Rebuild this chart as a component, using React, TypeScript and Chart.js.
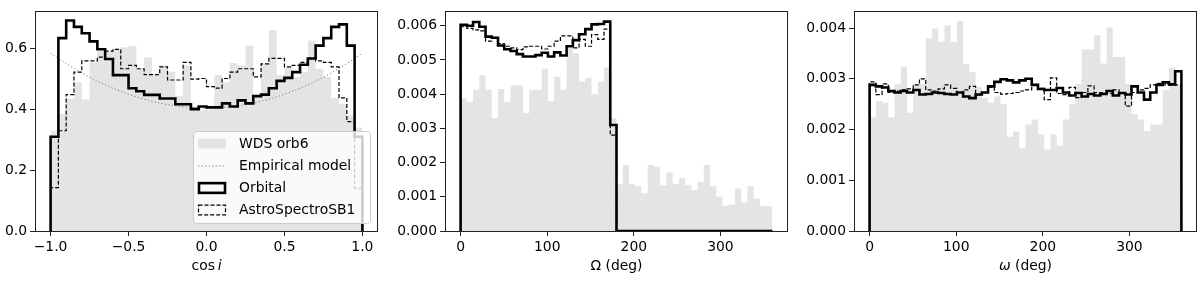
import React, { useEffect, useRef } from 'react';
import { Chart, registerables } from 'chart.js';

Chart.register(...registerables);

const FONT_FAMILY = '"DejaVu Sans", sans-serif';
const FONT_SIZE = 13.9;

// ---------- Panel 1: cos i (40 bins from -1 to 1) ----------
const COSI_RANGE: [number, number] = [-1, 1];
const COSI_WDS = [
  0.33, 0.385, 0.435, 0.49, 0.433, 0.555, 0.592, 0.59, 0.6, 0.605,
  0.61, 0.534, 0.571, 0.513, 0.545, 0.524, 0.444, 0.545, 0.41, 0.4,
  0.4, 0.513, 0.49, 0.553, 0.545, 0.61, 0.444, 0.55, 0.661, 0.513,
  0.539, 0.507, 0.523, 0.627, 0.534, 0.507, 0.438, 0.417, 0.38, 0.34,
];
const COSI_ORBITAL = [
  0.31, 0.635, 0.693, 0.672, 0.651, 0.624, 0.598, 0.566, 0.513, 0.513,
  0.47, 0.46, 0.448, 0.448, 0.436, 0.436, 0.417, 0.417, 0.401, 0.41,
  0.407, 0.407, 0.42, 0.41, 0.43, 0.42, 0.444, 0.449, 0.47, 0.494,
  0.504, 0.523, 0.547, 0.568, 0.61, 0.635, 0.672, 0.68, 0.61, 0.31,
];
const COSI_SB1 = [
  0.143, 0.33, 0.449, 0.523, 0.56, 0.56, 0.572, 0.592, 0.598, 0.534,
  0.545, 0.534, 0.515, 0.515, 0.54, 0.497, 0.497, 0.555, 0.5, 0.502,
  0.475, 0.47, 0.502, 0.523, 0.534, 0.534, 0.507, 0.55, 0.568, 0.568,
  0.54, 0.545, 0.555, 0.568, 0.56, 0.555, 0.54, 0.438, 0.36, 0.14,
];
const COSI_MODEL_X = [
  -1, -0.9, -0.8, -0.7, -0.6, -0.5, -0.4, -0.3, -0.2, -0.1, 0,
  0.1, 0.2, 0.3, 0.4, 0.5, 0.6, 0.7, 0.8, 0.9, 1,
];
const COSI_MODEL_Y = [
  0.585, 0.551, 0.52, 0.493, 0.47, 0.45, 0.434, 0.421, 0.412, 0.407, 0.405,
  0.407, 0.412, 0.421, 0.434, 0.45, 0.47, 0.493, 0.52, 0.551, 0.585,
];
const COSI_X_TICKS = [-1, -0.5, 0, 0.5, 1];
const COSI_X_LABELS = ['\u22121.0', '\u22120.5', '0.0', '0.5', '1.0'];
const COSI_Y_TICKS = [0, 0.2, 0.4, 0.6];
const COSI_Y_LABELS = ['0.0', '0.2', '0.4', '0.6'];

// ---------- Panel 2: Omega (50 bins from 0 to 360) ----------
const NODE_RANGE: [number, number] = [0, 360];
const NODE_WDS = [
  0.00388, 0.00378, 0.00413, 0.00455, 0.00413, 0.0033, 0.00415, 0.00378, 0.00425, 0.00425,
  0.00345, 0.00413, 0.00413, 0.00474, 0.0038, 0.00451, 0.00413, 0.00535, 0.0052, 0.00437,
  0.00447, 0.004, 0.00436, 0.00478, 0.0033, 0.00137, 0.00193, 0.00137, 0.00131, 0.0011,
  0.00193, 0.00188, 0.00134, 0.00171, 0.00137, 0.00154, 0.00134, 0.00119, 0.00143, 0.00193,
  0.00131, 0.001, 0.00074, 0.00077, 0.00124, 0.00083, 0.00131, 0.00094, 0.00074, 0.00072,
];
const NODE_ORBITAL = [
  0.00603, 0.006, 0.00611, 0.00597, 0.00568, 0.00565, 0.00542, 0.00531, 0.00526, 0.00517,
  0.0051, 0.0051, 0.00514, 0.00521, 0.0051, 0.00522, 0.00513, 0.0054, 0.00558, 0.00575,
  0.0059, 0.00604, 0.00605, 0.00612, 0.0031, 0, 0, 0, 0, 0,
  0, 0, 0, 0, 0, 0, 0, 0, 0, 0,
  0, 0, 0, 0, 0, 0, 0, 0, 0, 0,
];
const NODE_SB1 = [
  0.00597, 0.00592, 0.00588, 0.00585, 0.00555, 0.00565, 0.00548, 0.0054, 0.00535, 0.0053,
  0.00538, 0.0054, 0.0054, 0.00532, 0.0054, 0.00555, 0.0057, 0.0057, 0.00535, 0.0056,
  0.0054, 0.00574, 0.0056, 0.0059, 0.0028, 0, 0, 0, 0, 0,
  0, 0, 0, 0, 0, 0, 0, 0, 0, 0,
  0, 0, 0, 0, 0, 0, 0, 0, 0, 0,
];
const DEG_X_TICKS = [0, 100, 200, 300];
const DEG_X_LABELS = ['0', '100', '200', '300'];
const NODE_Y_TICKS = [0, 0.001, 0.002, 0.003, 0.004, 0.005, 0.006];
const NODE_Y_LABELS = ['0.000', '0.001', '0.002', '0.003', '0.004', '0.005', '0.006'];

// ---------- Panel 3: omega (50 bins from 0 to 360) ----------
const PERI_RANGE: [number, number] = [0, 360];
const PERI_WDS = [
  0.00224, 0.00256, 0.00253, 0.00224, 0.0029, 0.00324, 0.00233, 0.0029, 0.0029, 0.0038,
  0.00399, 0.00373, 0.00405, 0.00373, 0.00414, 0.00329, 0.00313, 0.00284, 0.00262, 0.00253,
  0.00265, 0.0025, 0.00186, 0.00196, 0.00163, 0.0021, 0.0022, 0.0019, 0.0016, 0.0019,
  0.00168, 0.0022, 0.0025, 0.0029, 0.00358, 0.00358, 0.00386, 0.0033, 0.00401, 0.00343,
  0.00343, 0.0029, 0.0023, 0.0022, 0.00197, 0.0021, 0.0021, 0.00278, 0.00322, 0.00288,
];
const PERI_ORBITAL = [
  0.00288, 0.00285, 0.00283, 0.00276, 0.00273, 0.00276, 0.00273, 0.00278, 0.00269, 0.0027,
  0.00273, 0.00272, 0.0027, 0.00269, 0.00273, 0.00265, 0.00262, 0.00269, 0.00273, 0.00285,
  0.00294, 0.00299, 0.00297, 0.00293, 0.00297, 0.003, 0.00288, 0.0028, 0.00278, 0.00278,
  0.00282, 0.00273, 0.00267, 0.00272, 0.00265, 0.0027, 0.00267, 0.0027, 0.00276, 0.00267,
  0.00272, 0.00269, 0.00285, 0.00273, 0.00259, 0.00273, 0.00288, 0.00293, 0.00289, 0.00315,
];
const PERI_SB1 = [
  0.00294, 0.00269, 0.0029, 0.00273, 0.00276, 0.00278, 0.0028, 0.00288, 0.003, 0.00278,
  0.00276, 0.0028, 0.00288, 0.00281, 0.00273, 0.00278, 0.00285, 0.00269, 0.00273, 0.00283,
  0.00273, 0.0027, 0.00271, 0.00273, 0.00276, 0.00278, 0.00288, 0.00281, 0.00259, 0.00302,
  0.00271, 0.00269, 0.00283, 0.00263, 0.00273, 0.00286, 0.00273, 0.00273, 0.00271, 0.00278,
  0.00273, 0.00246, 0.00273, 0.00278, 0.00281, 0.00288, 0.00291, 0.00288, 0.00288, 0.00288,
];
const PERI_Y_TICKS = [0, 0.001, 0.002, 0.003, 0.004];
const PERI_Y_LABELS = ['0.000', '0.001', '0.002', '0.003', '0.004'];

const LEGEND_LABELS = ['WDS orb6', 'Empirical model', 'Orbital', 'AstroSpectroSB1'];

type TitlePart = { text: string; italic?: boolean };

type PanelCfg = {
  left: number;
  width: number;
  yAxisW: number;
  padRight: number;
  xMin: number;
  xMax: number;
  yMax: number;
  xTicks: number[];
  xLabels: string[];
  yTicks: number[];
  yLabels: string[];
  range: [number, number];
  wds: number[];
  orbital: number[];
  sb1: number[];
  modelX?: number[];
  modelY?: number[];
  title: TitlePart[];
  legend?: boolean;
};

const GRAY = '#e4e4e4';

function stepPoints(range: [number, number], values: number[]) {
  const n = values.length;
  const w = (range[1] - range[0]) / n;
  const pts: { x: number; y: number }[] = [{ x: range[0], y: 0 }];
  values.forEach((v, i) => pts.push({ x: range[0] + i * w, y: v }));
  pts.push({ x: range[1], y: 0 });
  return pts;
}

function font(italic = false) {
  return `${italic ? 'italic ' : ''}${FONT_SIZE}px ${FONT_FAMILY}`;
}

function Panel({ cfg }: { cfg: PanelCfg }) {
  const ref = useRef<HTMLCanvasElement | null>(null);

  useEffect(() => {
    const canvas = ref.current;
    if (!canvas) return;

    const decor = {
      id: 'decor',
      afterDraw(chart: any) {
        const { ctx, chartArea } = chart;
        const { left, right, top, bottom } = chartArea;
        ctx.save();
        // frame (all four spines)
        ctx.strokeStyle = '#222';
        ctx.lineWidth = 1;
        ctx.strokeRect(Math.round(left) + 0.5, Math.round(top) + 0.5, Math.round(right - left) - 1, Math.round(bottom - top));

        // axis title
        ctx.fillStyle = '#000';
        ctx.textBaseline = 'middle';
        ctx.textAlign = 'left';
        let total = 0;
        const widths = cfg.title.map((p) => {
          ctx.font = font(p.italic);
          const w = ctx.measureText(p.text).width;
          total += w;
          return w;
        });
        let x = (left + right) / 2 - total / 2;
        cfg.title.forEach((p, i) => {
          ctx.font = font(p.italic);
          ctx.fillText(p.text, x, 266.5);
          x += widths[i];
        });

        // legend
        if (cfg.legend) {
          const bx = 193.5, by = 131.5, bw = 177, bh = 92;
          const r = 3;
          ctx.beginPath();
          ctx.moveTo(bx + r, by);
          ctx.lineTo(bx + bw - r, by);
          ctx.arcTo(bx + bw, by, bx + bw, by + r, r);
          ctx.lineTo(bx + bw, by + bh - r);
          ctx.arcTo(bx + bw, by + bh, bx + bw - r, by + bh, r);
          ctx.lineTo(bx + r, by + bh);
          ctx.arcTo(bx, by + bh, bx, by + bh - r, r);
          ctx.lineTo(bx, by + r);
          ctx.arcTo(bx, by, bx + r, by, r);
          ctx.closePath();
          ctx.fillStyle = 'rgba(255,255,255,0.8)';
          ctx.fill();
          ctx.strokeStyle = '#cccccc';
          ctx.lineWidth = 1;
          ctx.stroke();

          const rows = [143.5, 165.5, 188, 210];
          const hx = 198, hw = 28, hh = 9.7;
          // WDS
          ctx.fillStyle = GRAY;
          ctx.fillRect(hx, rows[0] - hh / 2, hw, hh);
          // model
          ctx.strokeStyle = '#7f7f7f';
          ctx.lineWidth = 1;
          ctx.setLineDash([1.3, 2.2]);
          ctx.beginPath();
          ctx.moveTo(hx, rows[1] + 0.5);
          ctx.lineTo(hx + hw, rows[1] + 0.5);
          ctx.stroke();
          // orbital
          ctx.setLineDash([]);
          ctx.strokeStyle = '#000';
          ctx.lineWidth = 2.6;
          ctx.strokeRect(hx + 1, rows[2] - hh / 2, hw - 2, hh);
          // sb1
          ctx.lineWidth = 1.2;
          ctx.setLineDash([4, 2]);
          ctx.strokeRect(hx + 0.5, rows[3] - hh / 2, hw - 1, hh);
          ctx.setLineDash([]);

          ctx.fillStyle = '#000';
          ctx.font = font(false);
          ctx.textBaseline = 'middle';
          LEGEND_LABELS.forEach((t, i) => ctx.fillText(t, 239, rows[i] + 0.5));
        }
        ctx.restore();
      },
    };

    const datasets: any[] = [
      {
        label: 'Orbital',
        data: stepPoints(cfg.range, cfg.orbital),
        stepped: 'before',
        borderColor: '#000',
        borderWidth: 2.6,
        pointRadius: 0,
        fill: false,
        order: 1,
      },
      {
        label: 'AstroSpectroSB1',
        data: stepPoints(cfg.range, cfg.sb1),
        stepped: 'before',
        borderColor: '#000',
        borderWidth: 1.2,
        borderDash: [4, 2],
        pointRadius: 0,
        fill: false,
        order: 2,
      },
      {
        label: 'WDS orb6',
        data: stepPoints(cfg.range, cfg.wds),
        stepped: 'before',
        borderColor: 'rgba(0,0,0,0)',
        borderWidth: 0,
        backgroundColor: GRAY,
        pointRadius: 0,
        fill: 'origin',
        order: 4,
      },
    ];
    if (cfg.modelX && cfg.modelY) {
      datasets.push({
        label: 'Empirical model',
        data: cfg.modelX.map((x, i) => ({ x, y: cfg.modelY![i] })),
        borderColor: '#7f7f7f',
        borderWidth: 1,
        borderDash: [1.3, 2.2],
        cubicInterpolationMode: 'monotone',
        pointRadius: 0,
        fill: false,
        order: 3,
      });
    }

    const tickFont = { family: FONT_FAMILY, size: FONT_SIZE };

    const chart = new Chart(canvas, {
      type: 'line',
      data: { datasets },
      options: {
        animation: false,
        responsive: false,
        events: [],
        layout: { padding: { left: 0, right: cfg.padRight, top: 4, bottom: 0 } },
        plugins: { legend: { display: false }, tooltip: { enabled: false } },
        scales: {
          x: {
            type: 'linear',
            min: cfg.xMin,
            max: cfg.xMax,
            afterBuildTicks: (s: any) => {
              s.ticks = cfg.xTicks.map((v) => ({ value: v }));
            },
            afterFit: (s: any) => {
              s.height = 50;
            },
            ticks: {
              callback: (_v: any, i: number) => cfg.xLabels[i],
              font: tickFont,
              color: '#000',
              padding: 3,
              maxRotation: 0,
              autoSkip: false,
            },
            grid: { drawOnChartArea: false, drawTicks: true, tickLength: 5, color: '#222', lineWidth: 1 },
            border: { display: false },
          },
          y: {
            type: 'linear',
            min: 0,
            max: cfg.yMax,
            afterBuildTicks: (s: any) => {
              s.ticks = cfg.yTicks.map((v) => ({ value: v }));
            },
            afterFit: (s: any) => {
              s.width = cfg.yAxisW;
            },
            ticks: {
              callback: (_v: any, i: number) => cfg.yLabels[i],
              font: tickFont,
              color: '#000',
              padding: 3,
              autoSkip: false,
            },
            grid: { drawOnChartArea: false, drawTicks: true, tickLength: 5, color: '#222', lineWidth: 1 },
            border: { display: false },
          },
        },
      },
      plugins: [decor],
    } as any);

    return () => chart.destroy();
  }, [cfg]);

  return (
    <canvas
      ref={ref}
      width={cfg.width}
      height={281}
      style={{ position: 'absolute', left: cfg.left, top: 0, width: cfg.width, height: 281 }}
    />
  );
}

const PANELS: PanelCfg[] = [
  {
    left: 0, width: 392, yAxisW: 35, padRight: 14,
    xMin: -1.1, xMax: 1.1, yMax: 0.723,
    xTicks: COSI_X_TICKS, xLabels: COSI_X_LABELS,
    yTicks: COSI_Y_TICKS, yLabels: COSI_Y_LABELS,
    range: COSI_RANGE, wds: COSI_WDS, orbital: COSI_ORBITAL, sb1: COSI_SB1,
    modelX: COSI_MODEL_X, modelY: COSI_MODEL_Y,
    title: [{ text: 'cos' }, { text: '\u2009' }, { text: 'i', italic: true }],
    legend: true,
  },
  {
    left: 392, width: 406, yAxisW: 53, padRight: 10,
    xMin: -18, xMax: 378, yMax: 0.00642,
    xTicks: DEG_X_TICKS, xLabels: DEG_X_LABELS,
    yTicks: NODE_Y_TICKS, yLabels: NODE_Y_LABELS,
    range: NODE_RANGE, wds: NODE_WDS, orbital: NODE_ORBITAL, sb1: NODE_SB1,
    title: [{ text: '\u03A9 (deg)' }],
  },
  {
    left: 798, width: 402, yAxisW: 56, padRight: 3,
    xMin: -18, xMax: 378, yMax: 0.00433,
    xTicks: DEG_X_TICKS, xLabels: DEG_X_LABELS,
    yTicks: PERI_Y_TICKS, yLabels: PERI_Y_LABELS,
    range: PERI_RANGE, wds: PERI_WDS, orbital: PERI_ORBITAL, sb1: PERI_SB1,
    title: [{ text: '\u03C9', italic: true }, { text: ' (deg)' }],
  },
];

export default function App() {
  return (
    <div style={{ position: 'fixed', left: 0, top: 0, width: 1200, height: 281, background: '#fff' }}>
      {PANELS.map((p, i) => (
        <Panel key={i} cfg={p} />
      ))}
    </div>
  );
}
